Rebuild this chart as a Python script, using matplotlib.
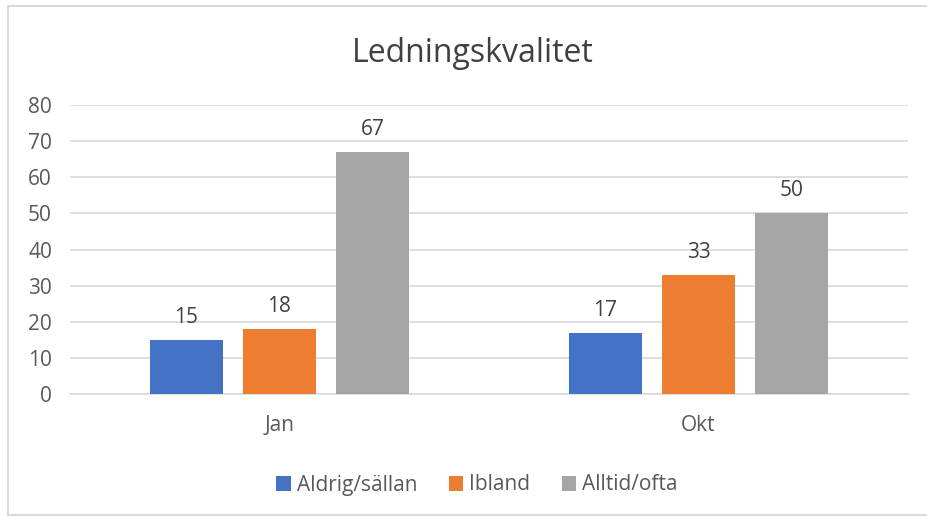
import matplotlib.pyplot as plt
import matplotlib.lines as mlines
import numpy as np

plt.rcParams['font.family'] = ['Open Sans', 'DejaVu Sans']

# data
categories = ['Jan', 'Okt']
series = ['Aldrig/sällan', 'Ibland', 'Alltid/ofta']
values = [[15, 17], [18, 33], [67, 50]]
colors = ['#4472c4', '#ed7d31', '#a5a5a5']

fig = plt.figure(figsize=(9.28, 5.16), dpi=100)
ax = fig.add_axes([70/928, 122/516, 838/928, 289/516])

# chart border: left, top and bottom only (right side runs off the image)
bx = [1.0, 8/928, 8/928, 1.0]
by = [510/516, 510/516, 1/516, 1/516]
fig.lines.append(mlines.Line2D(bx, by, transform=fig.transFigure,
                               color='#d9d9d9', linewidth=1.5))

x = np.arange(len(categories))
width = 0.174
step = 0.222
for i, (name, vals) in enumerate(zip(series, values)):
    bars = ax.bar(x + (i - 1)*step, vals, width, color=colors[i], label=name, zorder=3)
    for b, v in zip(bars, vals):
        ax.text(b.get_x() + b.get_width()/2, v + 4.7, str(v), ha='center', va='baseline',
                fontsize=15, color='#404040')

ax.set_xlim(-0.5, 1.5)
ax.set_ylim(0, 80)
ax.set_yticks(range(0, 81, 10))
ax.set_xticks(x)
ax.set_xticklabels(categories)
ax.yaxis.grid(True, color='#d9d9d9', linewidth=1.2, zorder=0)
for s in ['top', 'right', 'left']:
    ax.spines[s].set_visible(False)
ax.spines['bottom'].set_color('#d9d9d9')
ax.spines['bottom'].set_linewidth(1.2)
ax.tick_params(length=0, labelsize=15, labelcolor='#595959')
ax.tick_params(axis='y', pad=13)
ax.tick_params(axis='x', pad=15)

fig.text(473/928, 1 - 62/516, 'Ledningskvalitet', ha='center', va='baseline',
         fontsize=23, color='#404040')

fig.legend(loc='center', bbox_to_anchor=(477/928, 1 - 485/516), ncol=3, frameon=False,
           fontsize=15, labelcolor='#595959', handlelength=0.7, handleheight=0.7,
           handletextpad=0.3, columnspacing=1.5)

fig.savefig('out.png', dpi=100)
